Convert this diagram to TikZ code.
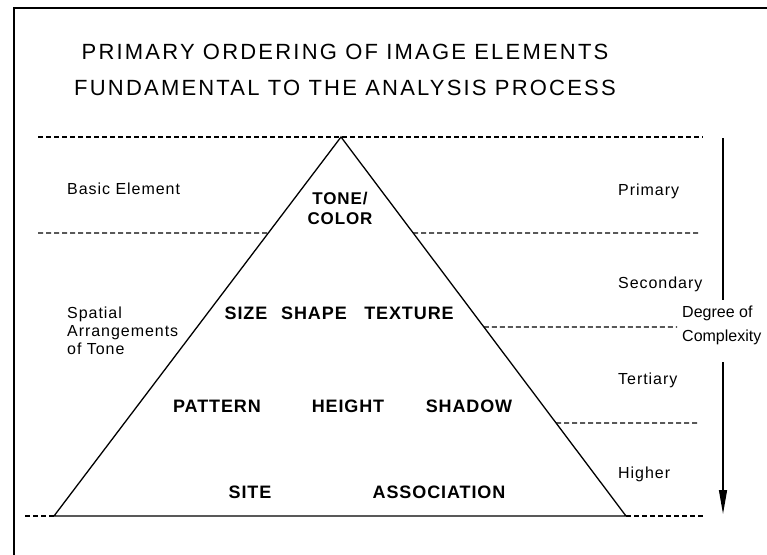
\documentclass[tikz,border=0pt]{standalone}
\usepackage{fontspec}
\usepackage{tikz}
\usetikzlibrary{arrows.meta,calc,positioning}
\newfontfamily\titlefont[LetterSpace=10]{Liberation Sans}
\newfontfamily\labelfont[LetterSpace=6]{Liberation Sans}
\newfontfamily\plainfont{Liberation Sans}
\newfontfamily\elemfont[LetterSpace=5]{Liberation Sans}
\tikzstyle{heading} = [font=\titlefont\fontsize{22}{26}\selectfont, inner sep=0pt]
\tikzstyle{tierlabel} = [font=\labelfont\fontsize{16}{18}\selectfont, inner sep=0pt, anchor=west, align=left]
\tikzstyle{elem} = [font=\elemfont\bfseries\fontsize{18}{20}\selectfont, inner sep=0pt]
\tikzstyle{band} = [draw, dash pattern=on 5pt off 3pt, line width=1.1pt]
\tikzstyle{solid line} = [draw, line width=1.3pt]

\begin{document}
\begin{tikzpicture}[x=1pt,y=-1pt,node distance=36pt]
  \useasboundingbox (0,0) rectangle (767,554);
  % border, top and left side only
  \coordinate (Rand_R) at (767,8);
  \coordinate (Rand_Ecke) at (14,8);
  \coordinate (Rand_U) at (14,560);
  \path[solid line] (Rand_R) -- (Rand_Ecke) -- (Rand_U);

  \node[heading] (Title_eins) at (345,52) {PRIMARY ORDERING OF IMAGE ELEMENTS};
  \node[heading] (Title_zwei) [below of=Title_eins] {FUNDAMENTAL TO THE ANALYSIS PROCESS};

  % pyramid
  \coordinate (Apex) at (341,137);
  \coordinate (Base_L) at (54,516);
  \coordinate (Base_R) at (626,516);
  \path[solid line] (Apex) -- (Base_L) -- (Base_R) -- cycle;

  \coordinate (Cut_eins_L) at ($(Apex)!0.2533!(Base_L)$);
  \coordinate (Cut_eins_R) at ($(Apex)!0.2533!(Base_R)$);
  \coordinate (Cut_zwei_R) at ($(Apex)!0.5013!(Base_R)$);
  \coordinate (Cut_drei_R) at ($(Apex)!0.7546!(Base_R)$);

  \coordinate (Top_L) at (38,137);
  \coordinate (Top_R) at (703,137);
  \coordinate (Eins_L) at (38,233);
  \coordinate (Eins_R) at (700,233);
  \coordinate (Zwei_R) at (677,327);
  \coordinate (Drei_R) at (698,423);
  \coordinate (Unten_L) at (25,516);
  \coordinate (Unten_R) at (703,516);

  \path[band] (Top_L) -- (Top_R);
  \path[band] (Eins_L) -- (Cut_eins_L);
  \path[band] (Cut_eins_R) -- (Eins_R);
  \path[band] (Cut_zwei_R) -- (Zwei_R);
  \path[band] (Cut_drei_R) -- (Drei_R);
  \path[band] (Unten_L) -- (Base_L);
  \path[band] (Base_R) -- (Unten_R);

  % degree of complexity arrow
  \coordinate (Pfeil_oben) at (723,138);
  \coordinate (Pfeil_mitte) at (723,300);
  \coordinate (Pfeil_start) at (723,362);
  \coordinate (Pfeil_spitze) at (723,514);
  \path[solid line] (Pfeil_oben) -- (Pfeil_mitte);
  \path[solid line, -{Triangle[length=24pt,width=8pt]}] (Pfeil_start) -- (Pfeil_spitze);

  \node[tierlabel] (Basic) at (67,189) {Basic Element};
  \node[tierlabel] (Spatial) at (67,331) {Spatial\\Arrangements\\of Tone};
  \node[tierlabel] (Primary) at (618,191) {Primary};
  \node[tierlabel] (Secondary) at (618,284) {Secondary};
  \node[tierlabel] (Tertiary) at (618,380) {Tertiary};
  \node[tierlabel] (Higher) at (618,474) {Higher};
  \node[tierlabel, font=\plainfont\fontsize{16}{24}\selectfont] (Degree) at (682,325) {Degree of\\Complexity};

  \node[elem, align=center, font=\elemfont\bfseries\fontsize{17}{20}\selectfont] (Tone) at (340,208) {TONE/\\COLOR};
  \node[elem] (Size) at (246,313) {SIZE};
  \node[elem] (Shape) at (314,313) {SHAPE};
  \node[elem] (Texture) at (409,313) {TEXTURE};
  \node[elem] (Pattern) at (217,406) {PATTERN};
  \node[elem] (Height) at (348,406) {HEIGHT};
  \node[elem] (Shadow) at (469,406) {SHADOW};
  \node[elem] (Site) at (250,492) {SITE};
  \node[elem] (Association) at (439,492) {ASSOCIATION};
\end{tikzpicture}
\end{document}
